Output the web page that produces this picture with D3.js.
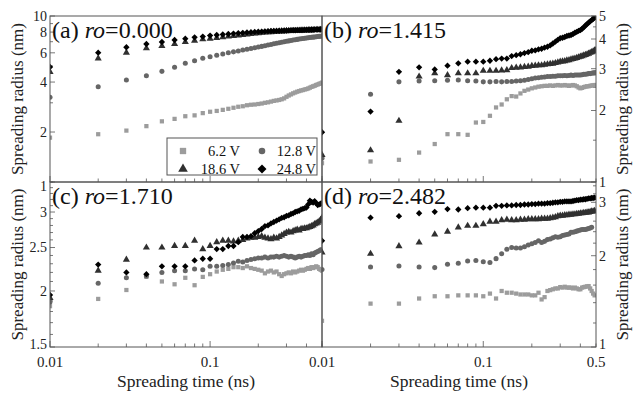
<!DOCTYPE html>
<html>
<head>
<meta charset="utf-8">
<script src="https://cdn.jsdelivr.net/npm/d3@7"></script>
<style>
body { margin: 0; background: #fff; }
svg { display: block; font-family: "Liberation Serif", "Times New Roman", "DejaVu Serif", serif; }
</style>
</head>
<body>
<svg id="chart" width="634" height="394"></svg>
<script>
// spreading time (ns)
const times = [0.01, 0.02, 0.03, 0.04, 0.05, 0.06, 0.07, 0.08, 0.09, 0.10,
	0.11, 0.12, 0.13, 0.14, 0.15, 0.16, 0.17, 0.18, 0.19, 0.20,
	0.21, 0.22, 0.23, 0.24, 0.25, 0.26, 0.27, 0.28, 0.29, 0.30,
	0.31, 0.32, 0.33, 0.34, 0.35, 0.36, 0.37, 0.38, 0.39, 0.40,
	0.41, 0.42, 0.43, 0.44, 0.45, 0.46, 0.47, 0.48, 0.49, 0.50];

const voltages = ['6.2 V', '12.8 V', '18.6 V', '24.8 V'];

// (a) ro = 0.000
const a62 = [1.85, 1.94, 2.04, 2.17, 2.32, 2.40, 2.49, 2.52, 2.60, 2.65,
	2.68, 2.72, 2.76, 2.80, 2.84, 2.86, 2.90, 2.92, 2.93, 2.95,
	2.97, 3.00, 3.02, 3.05, 3.08, 3.10, 3.12, 3.15, 3.19, 3.26,
	3.32, 3.37, 3.42, 3.46, 3.50, 3.53, 3.56, 3.58, 3.61, 3.63,
	3.66, 3.70, 3.74, 3.77, 3.80, 3.84, 3.87, 3.90, 3.93, 3.97];
const a128 = [3.24, 3.75, 4.12, 4.37, 4.64, 4.91, 5.19, 5.38, 5.56, 5.69,
	5.80, 5.90, 6.00, 6.08, 6.16, 6.24, 6.31, 6.38, 6.44, 6.50,
	6.56, 6.62, 6.68, 6.74, 6.80, 6.85, 6.90, 6.95, 7.00, 7.04,
	7.08, 7.12, 7.16, 7.20, 7.23, 7.26, 7.29, 7.32, 7.35, 7.37,
	7.40, 7.42, 7.44, 7.46, 7.48, 7.50, 7.52, 7.54, 7.56, 7.58];
const a186 = [4.60, 5.56, 6.01, 6.39, 6.60, 6.78, 6.97, 7.10, 7.24, 7.30,
	7.38, 7.45, 7.52, 7.58, 7.64, 7.70, 7.75, 7.80, 7.84, 7.88,
	7.92, 7.95, 7.98, 8.00, 8.02, 8.04, 8.06, 8.08, 8.10, 8.11,
	8.12, 8.13, 8.14, 8.15, 8.16, 8.17, 8.18, 8.19, 8.20, 8.20,
	8.21, 8.22, 8.22, 8.23, 8.23, 8.24, 8.24, 8.25, 8.25, 8.26];
const a248 = [4.93, 6.01, 6.48, 6.78, 6.97, 7.17, 7.30, 7.44, 7.52, 7.62,
	7.68, 7.74, 7.79, 7.84, 7.88, 7.92, 7.96, 7.99, 8.02, 8.04,
	8.06, 8.08, 8.10, 8.12, 8.13, 8.14, 8.15, 8.16, 8.17, 8.18,
	8.19, 8.20, 8.21, 8.21, 8.22, 8.22, 8.23, 8.23, 8.24, 8.24,
	8.25, 8.25, 8.26, 8.26, 8.27, 8.27, 8.28, 8.28, 8.29, 8.29];

// (b) ro = 1.415
const b62 = [1.20, 1.22, 1.24, 1.33, 1.445, 1.59, 1.59, 1.58, 1.78, 1.79,
	1.90, 2.06, 2.12, 2.23, 2.30, 2.29, 2.36, 2.42, 2.45, 2.48,
	2.50, 2.52, 2.53, 2.54, 2.54, 2.55, 2.54, 2.55, 2.56, 2.55,
	2.55, 2.56, 2.55, 2.54, 2.55, 2.56, 2.55, 2.53, 2.50, 2.48,
	2.49, 2.51, 2.52, 2.53, 2.53, 2.54, 2.55, 2.55, 2.56, 2.56];
const b128 = [1.26, 2.34, 2.64, 2.66, 2.67, 2.68, 2.69, 2.67, 2.66, 2.64,
	2.64, 2.65, 2.64, 2.65, 2.65, 2.66, 2.67, 2.68, 2.70, 2.72,
	2.74, 2.75, 2.76, 2.77, 2.78, 2.78, 2.79, 2.79, 2.80, 2.80,
	2.80, 2.81, 2.80, 2.81, 2.82, 2.81, 2.82, 2.82, 2.82, 2.82,
	2.83, 2.84, 2.84, 2.85, 2.86, 2.86, 2.87, 2.88, 2.88, 2.89];
const b186 = [1.30, 1.36, 1.81, 2.78, 2.87, 2.82, 2.87, 2.87, 2.87, 2.94,
	2.94, 2.94, 2.95, 2.96, 3.02, 3.03, 3.04, 3.05, 3.06, 3.08,
	3.09, 3.10, 3.10, 3.12, 3.13, 3.14, 3.15, 3.17, 3.19, 3.21,
	3.22, 3.23, 3.25, 3.26, 3.28, 3.30, 3.31, 3.33, 3.35, 3.37,
	3.39, 3.41, 3.43, 3.45, 3.47, 3.50, 3.52, 3.55, 3.58, 3.60];
const b248 = [1.62, 1.98, 2.91, 3.04, 2.98, 3.09, 3.16, 3.21, 3.21, 3.21,
	3.24, 3.29, 3.31, 3.31, 3.39, 3.42, 3.45, 3.49, 3.52, 3.57,
	3.58, 3.62, 3.64, 3.68, 3.71, 3.76, 3.83, 3.90, 3.97, 4.03,
	4.05, 4.08, 4.12, 4.14, 4.16, 4.20, 4.25, 4.29, 4.33, 4.36,
	4.42, 4.48, 4.56, 4.62, 4.69, 4.75, 4.80, 4.86, 4.92, 4.96];

// (c) ro = 1.710
const c62 = [1.85, 1.92, 2.01, 2.15, 2.10, 2.07, 2.14, 2.06, 2.15, 2.18,
	2.21, 2.23, 2.24, 2.26, 2.26, 2.25, 2.27, 2.25, 2.24, 2.23,
	2.22, 2.19, 2.21, 2.22, 2.20, 2.21, 2.18, 2.16, 2.18, 2.19,
	2.20, 2.19, 2.21, 2.20, 2.21, 2.22, 2.23, 2.22, 2.23, 2.24,
	2.25, 2.24, 2.26, 2.25, 2.26, 2.27, 2.26, 2.24, 2.23, 2.22];
const c128 = [1.89, 2.08, 2.14, 2.16, 2.20, 2.22, 2.22, 2.24, 2.23, 2.27,
	2.27, 2.28, 2.29, 2.31, 2.33, 2.32, 2.34, 2.35, 2.36, 2.37,
	2.37, 2.38, 2.37, 2.38, 2.38, 2.39, 2.38, 2.39, 2.40, 2.39,
	2.38, 2.39, 2.38, 2.37, 2.38, 2.39, 2.38, 2.39, 2.40, 2.40,
	2.41, 2.40, 2.42, 2.41, 2.43, 2.44, 2.45, 2.46, 2.47, 2.47];
const c186 = [1.93, 2.22, 2.35, 2.50, 2.50, 2.52, 2.52, 2.59, 2.48, 2.52,
	2.57, 2.59, 2.59, 2.58, 2.59, 2.60, 2.62, 2.63, 2.63, 2.64,
	2.65, 2.63, 2.62, 2.61, 2.63, 2.62, 2.64, 2.66, 2.68, 2.70,
	2.71, 2.70, 2.72, 2.73, 2.74, 2.73, 2.75, 2.75, 2.76, 2.76,
	2.77, 2.78, 2.79, 2.80, 2.82, 2.83, 2.84, 2.86, 2.88, 2.91];
const c248 = [1.96, 2.29, 2.20, 2.18, 2.27, 2.27, 2.27, 2.34, 2.36, 2.36,
	2.48, 2.48, 2.52, 2.52, 2.57, 2.64, 2.64, 2.65, 2.69, 2.72,
	2.75, 2.79, 2.80, 2.83, 2.85, 2.87, 2.89, 2.91, 2.92, 2.94,
	2.95, 2.97, 2.98, 3.00, 3.01, 3.02, 3.04, 3.05, 3.06, 3.07,
	3.12, 3.18, 3.16, 3.15, 3.17, 3.14, 3.11, 3.12, 3.13, 3.14];

// (d) ro = 2.482
const d62 = [1.22, 1.39, 1.39, 1.445, 1.47, 1.47, 1.48, 1.48, 1.48, 1.47,
	1.50, 1.445, 1.53, 1.51, 1.51, 1.50, 1.49, 1.49, 1.49, 1.48,
	1.48, 1.51, 1.435, 1.46, 1.53, 1.54, 1.55, 1.56, 1.56, 1.576,
	1.57, 1.58, 1.57, 1.57, 1.57, 1.56, 1.57, 1.56, 1.55, 1.55,
	1.57, 1.576, 1.58, 1.585, 1.588, 1.56, 1.53, 1.50, 1.48, null];
const d128 = [1.80, 1.835, 1.85, 1.835, 1.827, 1.873, 1.89, 1.92, 1.93, 1.91,
	1.90, 1.956, 2.03, 2.10, 2.13, 2.12, 2.12, 2.14, 2.17, 2.19,
	2.21, 2.24, 2.21, 2.23, 2.26, 2.27, 2.29, 2.31, 2.30, 2.31,
	2.33, 2.34, 2.35, 2.36, 2.39, 2.39, 2.40, 2.41, 2.42, 2.43,
	2.44, 2.44, 2.44, 2.45, 2.46, 2.47, 2.48, null, null, null];
const d186 = [2.05, 2.03, 2.15, 2.21, 2.35, 2.40, 2.48, 2.51, 2.51, 2.54,
	2.59, 2.59, 2.62, 2.63, 2.62, 2.62, 2.63, 2.63, 2.64, 2.64,
	2.64, 2.64, 2.65, 2.65, 2.65, 2.66, 2.67, 2.68, 2.70, 2.71,
	2.71, 2.72, 2.72, 2.73, 2.73, 2.74, 2.74, 2.75, 2.75, 2.76,
	2.76, 2.77, 2.77, 2.78, 2.78, 2.79, 2.80, 2.80, 2.81, null];
const d248 = [2.24, 2.67, 2.70, 2.76, 2.79, 2.85, 2.84, 2.87, 2.88, 2.88,
	2.88, 2.92, 2.92, 2.93, 2.93, 2.94, 2.94, 2.95, 2.95, 2.96,
	2.96, 2.97, 2.97, 2.97, 2.98, 2.98, 2.99, 3.00, 3.00, 3.01,
	3.01, 3.02, 3.02, 3.02, 3.02, 3.03, 3.04, 3.05, 3.05, 3.06,
	3.06, 3.07, 3.07, 3.08, 3.09, 3.09, 3.10, 3.10, 3.11, null];

const svg = d3.select('#chart');

const LEFT = 50, MID = 322, RIGHT = 596, TOP = 16, ROWSPLIT = 182, BOTTOM = 347;
const colors = ['#9c9c9c', '#666666', '#303030', '#000000'];

const diamond = {
	draw(ctx, size) {
		const r = Math.sqrt(size / 2);
		ctx.moveTo(0, -r);
		ctx.lineTo(r, 0);
		ctx.lineTo(0, r);
		ctx.lineTo(-r, 0);
		ctx.closePath();
	}
};
const symbolTypes = [d3.symbolSquare, d3.symbolCircle, d3.symbolTriangle, diamond];
const symbolSizes = [18, 20, 22, 20];

const panels = [
	{ key: 'a', ro: '0.000', series: [a62, a128, a186, a248], x0: LEFT, x1: MID, y0: TOP, y1: ROWSPLIT,
		domain: [1, 10], labels: [1, 2, 4, 6, 8, 10], minorStep: 1, side: 'left' },
	{ key: 'b', ro: '1.415', series: [b62, b128, b186, b248], x0: MID, x1: RIGHT, y0: TOP, y1: ROWSPLIT,
		domain: [1, 5], labels: [1, 2, 3, 4, 5], minorStep: 0.5, side: 'right' },
	{ key: 'c', ro: '1.710', series: [c62, c128, c186, c248], x0: LEFT, x1: MID, y0: ROWSPLIT, y1: BOTTOM,
		domain: [1.5, 3.5], labels: [1.5, 2, 2.5, 3], minorStep: 0.1, side: 'left' },
	{ key: 'd', ro: '2.482', series: [d62, d128, d186, d248], x0: MID, x1: RIGHT, y0: ROWSPLIT, y1: BOTTOM,
		domain: [1, 3.5], labels: [1, 2, 3], minorStep: 0.2, side: 'right' },
];

const defs = svg.append('defs');

panels.forEach((p) => {
	const x = d3.scaleLog().domain([0.01, 0.5]).range([p.x0, p.x1]);
	const y = d3.scaleLog().domain(p.domain).range([p.y1, p.y0]);
	p.x = x;
	p.y = y;

	defs.append('clipPath').attr('id', `clip-${p.key}`)
		.append('rect')
		.attr('x', p.x0).attr('y', p.y0)
		.attr('width', p.x1 - p.x0).attr('height', p.y1 - p.y0);

	const g = svg.append('g').attr('class', `panel-${p.key}`);

	// x ticks (inward from bottom)
	g.selectAll('line.xtick')
		.data(x.ticks())
		.enter()
		.append('line')
		.attr('class', 'xtick')
		.attr('x1', (d) => x(d)).attr('x2', (d) => x(d))
		.attr('y1', p.y1)
		.attr('y2', (d) => p.y1 - (Math.abs(Math.log10(d) % 1) < 1e-6 ? 6 : 3.5))
		.attr('stroke', '#555').attr('stroke-width', 0.8);

	// y ticks, inward on the outer side
	const yEdge = p.side === 'left' ? p.x0 : p.x1;
	const dir = p.side === 'left' ? 1 : -1;
	const minor = d3.range(p.domain[0], p.domain[1] + 1e-9, p.minorStep);
	g.selectAll('line.ytick')
		.data(minor)
		.enter()
		.append('line')
		.attr('class', 'ytick')
		.attr('x1', yEdge)
		.attr('x2', (d) => yEdge + dir * (p.labels.some((l) => Math.abs(l - d) < 1e-6) ? 5 : 3))
		.attr('y1', (d) => y(d)).attr('y2', (d) => y(d))
		.attr('stroke', '#555').attr('stroke-width', 0.8);

	const isBottomRow = p.y1 === BOTTOM;
	g.selectAll('text.ylab')
		.data(p.labels)
		.enter()
		.append('text')
		.attr('class', 'ylab')
		.attr('x', yEdge - dir * 3)
		.attr('y', (d) => y(d))
		.attr('dy', (d) => {
			if (p.key === 'a' && d === 1) return '0.65em';
			if (isBottomRow && d === p.domain[0]) return '0.15em';
			return '0.35em';
		})
		.attr('text-anchor', p.side === 'left' ? 'end' : 'start')
		.attr('font-size', 14)
		.attr('fill', '#222')
		.text((d) => d);

	// points
	const pts = g.append('g').attr('clip-path', `url(#clip-${p.key})`);
	p.series.forEach((values, si) => {
		const sym = d3.symbol().type(symbolTypes[si]).size(symbolSizes[si]);
		pts.append('g')
			.selectAll('path')
			.data(times.map((t, i) => ({ t, v: values[i] })).filter((d) => d.v != null))
			.enter()
			.append('path')
			.attr('d', sym)
			.attr('transform', (d) => `translate(${x(d.t)},${y(d.v)})`)
			.attr('fill', colors[si]);
	});

	// frame
	g.append('rect')
		.attr('x', p.x0).attr('y', p.y0)
		.attr('width', p.x1 - p.x0).attr('height', p.y1 - p.y0)
		.attr('fill', 'none').attr('stroke', '#555').attr('stroke-width', 1);

	// panel label
	const lab = g.append('text')
		.attr('x', p.x0 + 2)
		.attr('y', p.y0 + 22)
		.attr('font-size', 24)
		.attr('fill', '#111');
	lab.append('tspan').text(`(${p.key}) `);
	lab.append('tspan').attr('font-style', 'italic').text('ro');
	lab.append('tspan').text(`=${p.ro}`);

	// y title
	const tx = p.side === 'left' ? 18 : 623;
	const ty = (p.y0 + p.y1) / 2;
	svg.append('text')
		.attr('transform', `translate(${tx},${ty}) rotate(-90)`)
		.attr('text-anchor', 'middle')
		.attr('dy', '0.32em')
		.attr('font-size', 17)
		.attr('fill', '#222')
		.text('Spreading radius (nm)');
});

// x tick labels and titles (bottom row)
const xLabelsLeft = [0.01, 0.1];
const xLabelsRight = [0.01, 0.1, 0.5];
[[panels[2], xLabelsLeft], [panels[3], xLabelsRight]].forEach(([p, labels]) => {
	svg.append('g')
		.selectAll('text')
		.data(labels)
		.enter()
		.append('text')
		.attr('x', (d) => p.x(d))
		.attr('y', BOTTOM + 20)
		.attr('text-anchor', 'middle')
		.attr('font-size', 15)
		.attr('fill', '#222')
		.text((d) => d);
	svg.append('text')
		.attr('x', (p.x0 + p.x1) / 2)
		.attr('y', 387)
		.attr('text-anchor', 'middle')
		.attr('font-size', 17.5)
		.attr('fill', '#222')
		.text('Spreading time (ns)');
});

// legend in panel (a)
const legend = svg.append('g');
legend.append('rect')
	.attr('x', 167).attr('y', 138).attr('width', 150).attr('height', 37)
	.attr('fill', '#fff').attr('stroke', '#555').attr('stroke-width', 1);
const legendPos = [[183, 151], [262, 151], [183, 169], [262, 169]];
voltages.forEach((v, i) => {
	const [lx, ly] = legendPos[i];
	legend.append('path')
		.attr('d', d3.symbol().type(symbolTypes[i]).size(i === 1 ? 34 : 40)())
		.attr('transform', `translate(${lx},${ly})`)
		.attr('fill', colors[i]);
	legend.append('text')
		.attr('x', lx + (i % 2 === 0 ? 57 : 54))
		.attr('y', ly)
		.attr('dy', '0.35em')
		.attr('text-anchor', 'end')
		.attr('font-size', 14.5)
		.attr('fill', '#111')
		.text(v);
});
</script>
</body>
</html>
